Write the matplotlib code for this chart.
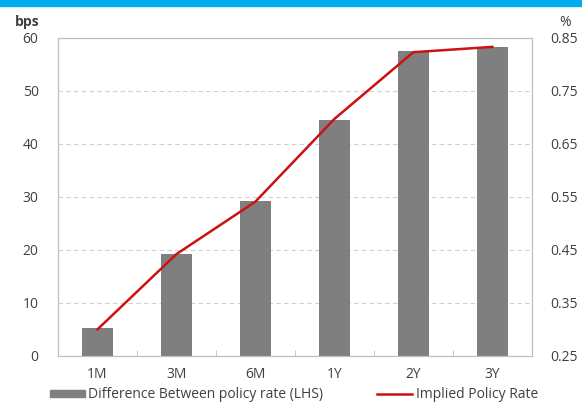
import matplotlib
matplotlib.use('Agg')
from matplotlib import pyplot as plt
from matplotlib.patches import Rectangle
from matplotlib.lines import Line2D

tenors = ['1M', '3M', '6M', '1Y', '2Y', '3Y']
spread_bps = [5.3, 19.2, 29.2, 44.5, 57.5, 58.2]
implied_rate = [0.30, 0.442, 0.541, 0.697, 0.823, 0.833]

plt.rcParams['font.family'] = ['Open Sans', 'DejaVu Sans']
fig = plt.figure(figsize=(5.82, 4.03), dpi=100)

# blue header strip
fig.patches.append(Rectangle((0, 0.985), 1, 0.015, transform=fig.transFigure,
                             color='#00aeef', zorder=0))

ax = fig.add_axes([0.0997, 0.117, 0.814, 0.789])
x = range(len(tenors))
ax.bar(x, spread_bps, width=0.39, color='#7f7f7f', zorder=2)
ax.set_xlim(-0.5, len(tenors) - 0.5)
ax.set_ylim(0, 60)
ax.set_yticks(range(0, 61, 10))
ax.set_xticks(list(x))
ax.set_xticklabels(tenors)
ax.set_xticks([i + 0.5 for i in range(len(tenors) - 1)], minor=True)
ax.tick_params(axis='x', which='minor', direction='in', length=4, color='#bfbfbf')
ax.tick_params(axis='x', which='major', length=0, pad=8)
ax.tick_params(axis='y', length=0, pad=14)
ax.tick_params(labelsize=10, labelcolor='#404040')
ax.yaxis.grid(True, linestyle=(0, (4, 3)), color='#d0d0d0', linewidth=0.8)
for s in ax.spines.values():
    s.set_color('#bfbfbf')

ax2 = ax.twinx()
ax2.plot(x, implied_rate, color='#cc1111', linewidth=1.8, zorder=3)
ax2.set_ylim(0.25, 0.85)
ax2.set_yticks([0.25, 0.35, 0.45, 0.55, 0.65, 0.75, 0.85])
ax2.tick_params(axis='y', length=0, pad=13, labelsize=10, labelcolor='#404040')
for s in ax2.spines.values():
    s.set_color('#bfbfbf')

fig.text(0.047, 0.945, 'bps', fontsize=10, fontweight='bold', color='#404040',
         ha='center', va='center')
fig.text(0.971, 0.945, '%', fontsize=10, color='#404040', ha='center', va='center')

handles = [Rectangle((0, 0), 1, 1, color='#7f7f7f'),
           Line2D([], [], color='#cc1111', linewidth=1.8)]
labels = ['Difference Between policy rate (LHS)', 'Implied Policy Rate']
fig.legend(handles, labels, loc='center left', bbox_to_anchor=(0.086, 0.02),
           ncol=2, frameon=False, fontsize=10, handlelength=2.5, handleheight=0.5,
           handletextpad=0.25, columnspacing=3.9, labelcolor='#404040',
           borderpad=0, borderaxespad=0)

fig.savefig('out.png', dpi=100)
